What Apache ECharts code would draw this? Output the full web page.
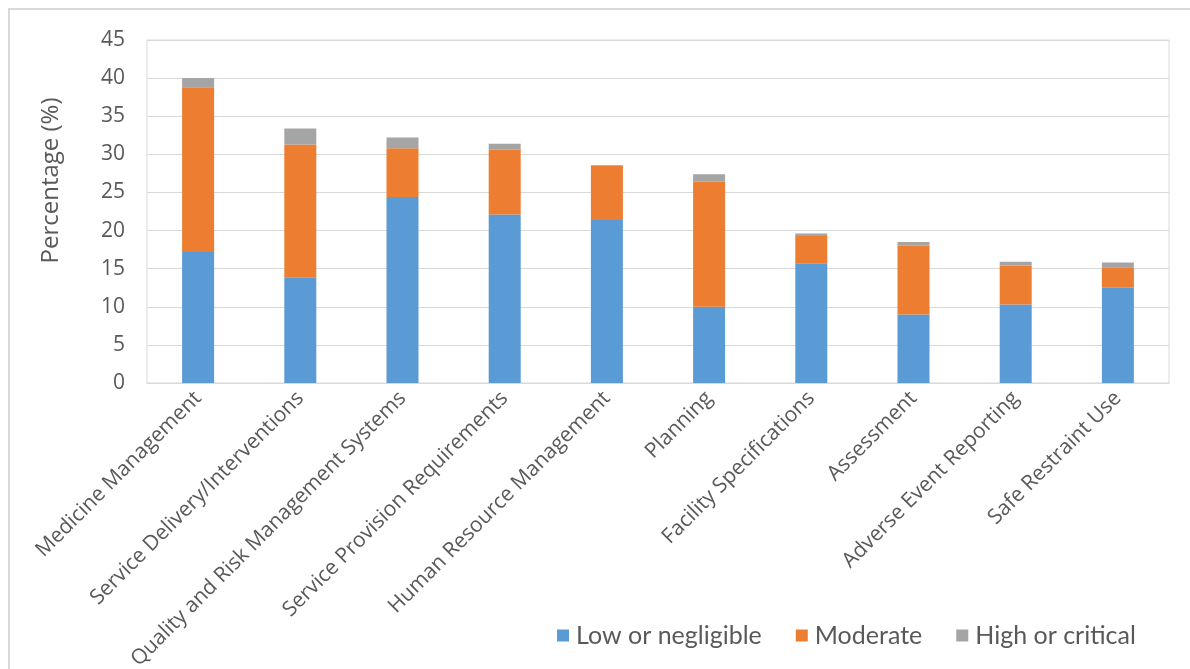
<!DOCTYPE html>
<html>
<head>
<meta charset="utf-8">
<script src="https://cdn.jsdelivr.net/npm/echarts@6/dist/echarts.min.js"></script>
<style>
  html, body { margin: 0; padding: 0; background: #fff; }
  #frame { position: absolute; left: 8px; top: 8px; width: 1182px; height: 661px;
           border-left: 2px solid #d9d9d9; border-top: 2px solid #d9d9d9; box-sizing: border-box; }
  #chart { position: absolute; left: 0; top: 0; width: 1190px; height: 669px; }
</style>
</head>
<body>
<div id="frame"></div>
<div id="chart"></div>
<script>
// categories along the x axis
const categories = [
  'Medicine Management',
  'Service Delivery/Interventions',
  'Quality and Risk Management Systems',
  'Service Provision Requirements',
  'Human Resource Management',
  'Planning',
  'Facility Specifications',
  'Assessment',
  'Adverse Event Reporting',
  'Safe Restraint Use'
];
// percentages
const lowValues = [17.2, 13.8, 24.4, 22.1, 21.4, 10.0, 15.7, 9.0, 10.3, 12.5];
const moderateValues = [21.6, 17.5, 6.4, 8.5, 7.1, 16.4, 3.6, 9.0, 5.1, 2.7];
const highValues = [1.2, 2.1, 1.4, 0.8, 0.1, 1.0, 0.3, 0.5, 0.5, 0.6];
const seriesNames = ['Low or negligible', 'Moderate', 'High or critical'];

const axisFont = "'Open Sans', sans-serif";
const legendFont = "Lato, sans-serif";

const chart = echarts.init(document.getElementById('chart'));

const barSeries = (name, data, color) => ({
  name: name,
  type: 'bar',
  stack: 'total',
  barWidth: 32,
  data: data,
  itemStyle: { color: color },
  emphasis: { disabled: true }
});

chart.setOption({
  animation: false,
  grid: {
    left: 147, right: 21, top: 40, bottom: 286,
    outerBoundsMode: 'none',
    show: true, borderColor: '#d9d9d9', borderWidth: 1
  },
  legend: {
    data: seriesNames,
    left: 552,
    top: 618,
    itemWidth: 12,
    itemHeight: 12,
    itemGap: 34,
    icon: 'rect',
    textStyle: { fontFamily: legendFont, fontSize: 25, color: '#595959', padding: [0, 0, 0, 2] }
  },
  xAxis: {
    type: 'category',
    data: categories,
    axisLine: { lineStyle: { color: '#d9d9d9' } },
    axisTick: { show: false },
    axisLabel: { rotate: 45, interval: 0, fontFamily: axisFont, fontSize: 21, color: '#595959', margin: 12 }
  },
  yAxis: {
    type: 'value',
    min: 0,
    max: 45,
    interval: 5,
    name: 'Percentage (%)',
    nameLocation: 'middle',
    nameGap: 84,
    nameTextStyle: { fontFamily: axisFont, fontSize: 24, color: '#595959', padding: [0, 0, 0, 62] },
    axisLine: { show: false },
    axisTick: { show: false },
    splitLine: { lineStyle: { color: '#d9d9d9', width: 1 } },
    axisLabel: { fontFamily: axisFont, fontSize: 21, color: '#595959', margin: 22 }
  },
  series: [
    barSeries(seriesNames[0], lowValues, '#5b9bd5'),
    barSeries(seriesNames[1], moderateValues, '#ed7d31'),
    barSeries(seriesNames[2], highValues, '#a5a5a5')
  ]
});
</script>
</body>
</html>
